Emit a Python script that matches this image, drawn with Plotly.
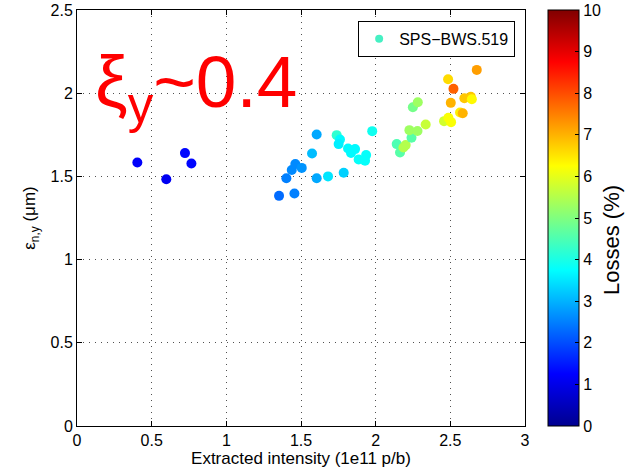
import plotly.graph_objects as go

intensity = [0.404, 0.598, 0.723, 0.766, 1.353, 1.456, 1.402, 1.438, 1.462, 1.505,
             1.574, 1.605, 1.605, 1.681, 1.786, 1.739, 1.761, 1.752, 1.815, 1.862,
             1.835, 1.886, 1.936, 1.929, 1.977, 2.141, 2.163, 2.186, 2.201, 2.240,
             2.226, 2.280, 2.335, 2.249, 2.282, 2.458, 2.487, 2.505, 2.485, 2.521,
             2.503, 2.594, 2.637, 2.644, 2.565, 2.583, 2.677]
emittance = [1.584, 1.483, 1.640, 1.578, 1.383, 1.397, 1.489, 1.538, 1.574, 1.551,
             1.638, 1.752, 1.489, 1.500, 1.522, 1.748, 1.722, 1.694, 1.668, 1.664,
             1.641, 1.602, 1.628, 1.594, 1.772, 1.694, 1.644, 1.674, 1.688, 1.732,
             1.778, 1.773, 1.812, 1.916, 1.946, 1.832, 1.852, 1.826, 2.084, 2.026,
             1.942, 1.970, 1.978, 1.964, 1.884, 1.880, 2.140]
losses = [1.2, 1.1, 1.3, 1.3, 2.3, 2.5, 2.5, 2.6, 2.6, 2.7,
          3.1, 2.9, 2.9, 3.5, 3.3, 4.2, 3.7, 3.6, 3.7, 3.7,
          3.7, 3.8, 3.8, 3.8, 3.9, 4.5, 4.6, 5.5, 5.5, 4.6,
          5.3, 5.3, 5.7, 4.9, 5.3, 5.8, 6.2, 6.2, 6.6, 7.8,
          7.0, 6.8, 6.8, 6.3, 6.4, 7.0, 7.2]

x_ticks = [0, 0.5, 1, 1.5, 2, 2.5, 3]
y_ticks = [0, 0.5, 1, 1.5, 2, 2.5]
cb_ticks = list(range(0, 11))

jet = [[0.0, "rgb(0,0,143)"], [0.125, "rgb(0,0,255)"], [0.375, "rgb(0,255,255)"],
       [0.625, "rgb(255,255,0)"], [0.875, "rgb(255,0,0)"], [1.0, "rgb(128,0,0)"]]

FONT = "Liberation Sans, Arial, Helvetica, sans-serif"

fig = go.Figure()
fig.add_trace(go.Scatter(
    x=intensity, y=emittance, mode="markers", showlegend=False,
    marker=dict(size=10, color=losses, cmin=0, cmax=10, colorscale=jet,
                line=dict(width=0),
                colorbar=dict(
                    x=1.051, xanchor="left", y=0.5, yanchor="middle",
                    len=1.0, lenmode="fraction", thickness=31, thicknessmode="pixels",
                    xpad=0, ypad=0,
                    outlinewidth=1, outlinecolor="black",
                    tickvals=cb_ticks, ticks="inside", ticklen=4, tickcolor="black",
                    ticklabeloverflow="allow",
                    tickfont=dict(family=FONT, size=16, color="black"),
                )),
))
fig.add_trace(go.Scatter(
    x=[None], y=[None], mode="markers", name="SPS\u2212BWS.519",
    marker=dict(size=8, color="rgb(70,240,195)"),
))

axis_common = dict(
    showline=True, linecolor="black", linewidth=1, mirror="ticks",
    ticks="inside", ticklen=5, tickcolor="black",
    showgrid=True, gridcolor="rgb(80,80,80)", griddash="1px,5px", gridwidth=1,
    zeroline=False, ticklabeloverflow="allow",
    tickfont=dict(family=FONT, size=16, color="black"),
)

fig.update_layout(
    width=625, height=474,
    margin=dict(l=77, r=100, t=10, b=48, autoexpand=False),
    paper_bgcolor="white", plot_bgcolor="white",
    font=dict(family=FONT, color="black"),
    xaxis=dict(range=[0, 3], tickvals=x_ticks, ticktext=[str(v) for v in x_ticks],
               title=dict(text="Extracted intensity (1e11 p/b)", standoff=2,
                          font=dict(family=FONT, size=17, color="black")),
               **axis_common),
    yaxis=dict(range=[0, 2.5], tickvals=y_ticks, ticktext=[str(v) for v in y_ticks],
               title=dict(text="\u03b5<sub>n,y</sub> (\u03bcm)", standoff=10,
                          font=dict(family=FONT, size=17, color="black")),
               **axis_common),
    legend=dict(x=0.978, xanchor="right", y=0.974, yanchor="top",
                bordercolor="black", borderwidth=1, bgcolor="white",
                font=dict(family=FONT, size=16, color="black")),
    annotations=[
        dict(text="\u03be<sub>y</sub>~0.4", xref="paper", yref="paper",
             x=(93 - 77) / 448, y=(426 - 87) / 416, xanchor="left", yanchor="middle",
             showarrow=False, font=dict(family=FONT, size=73, color="rgb(255,0,0)")),
        dict(text="Losses (%)", xref="paper", yref="paper", textangle=-90,
             x=(611 - 77) / 448, y=(426 - 240) / 416, xanchor="center", yanchor="middle",
             showarrow=False, font=dict(family=FONT, size=22, color="black")),
    ],
)

fig.write_html("out.html", config={"displayModeBar": False},
               post_script="document.body.style.margin='0';")
